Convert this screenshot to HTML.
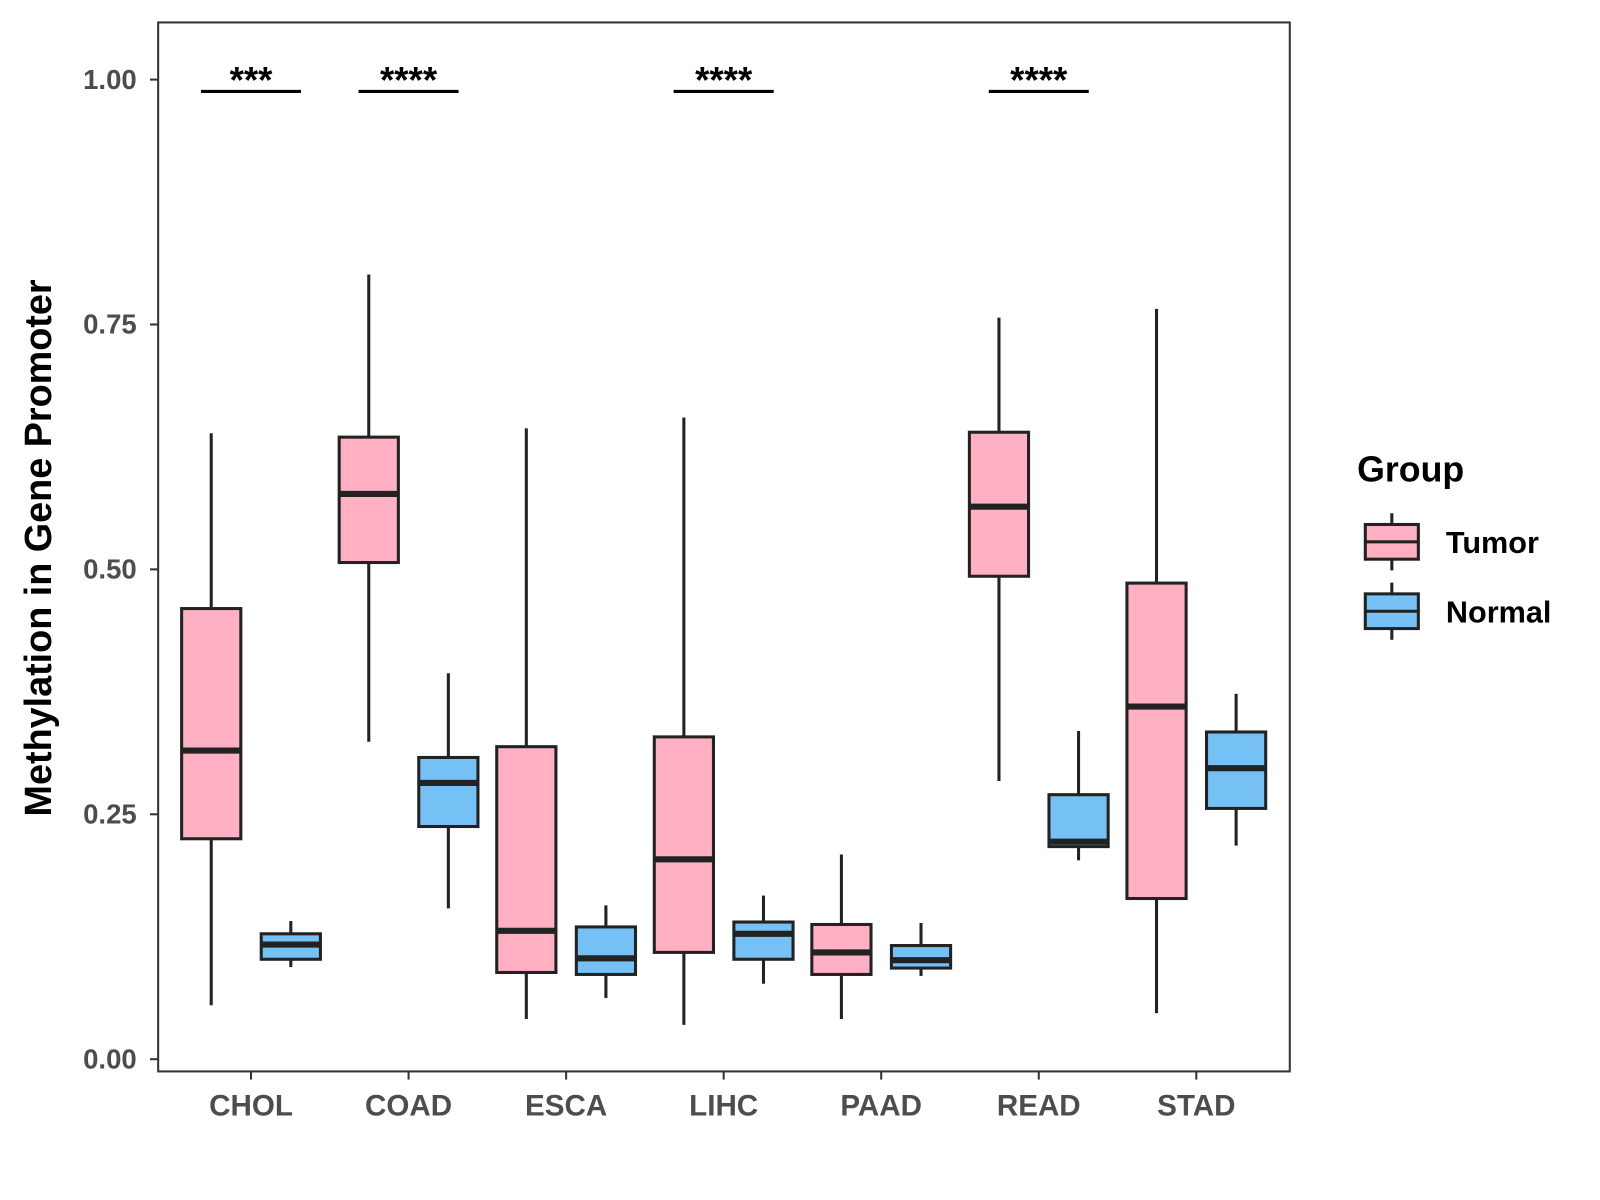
<!DOCTYPE html>
<html><head><meta charset="utf-8"><style>
body{margin:0;background:#fff;}
svg{display:block;font-family:"Liberation Sans",Arial,sans-serif;}
</style></head><body>
<svg id="chart" width="1600" height="1200" viewBox="0 0 1600 1200">
<g transform="scale(1.0204)">
<rect x="155" y="22" width="1109" height="1028" fill="#fff" stroke="#333" stroke-width="2"/>
<g id="yaxis"></g>
<g id="xaxis"></g>
<g id="boxes"></g>
<g id="sig"></g>
<text transform="translate(50,537) rotate(-90)" text-anchor="middle" font-size="37" font-weight="bold" fill="#000">Methylation in Gene Promoter</text>
<g>
<text x="1330" y="472" font-size="35" font-weight="bold" fill="#000">Group</text>
<g>
<line x1="1364" y1="503" x2="1364" y2="559" stroke="#222" stroke-width="3"/>
<rect x="1338" y="514" width="52" height="34" fill="#FFB0C2" stroke="#222" stroke-width="3"/>
<line x1="1338" y1="531" x2="1390" y2="531" stroke="#222" stroke-width="3"/>
<text x="1417" y="542" font-size="30" font-weight="bold" fill="#000">Tumor</text></g>
<g>
<line x1="1364" y1="571" x2="1364" y2="627" stroke="#222" stroke-width="3"/>
<rect x="1338" y="582" width="52" height="34" fill="#75C0F5" stroke="#222" stroke-width="3"/>
<line x1="1338" y1="599" x2="1390" y2="599" stroke="#222" stroke-width="3"/>
<text x="1417" y="610" font-size="30" font-weight="bold" fill="#000">Normal</text></g>
</g>
</g>
</svg>
<script>
const categories=["CHOL","COAD","ESCA","LIHC","PAAD","READ","STAD"];
// [min, q1, median, q3, max]
const tumorStats=[[0.055,0.225,0.315,0.460,0.639],[0.324,0.507,0.577,0.635,0.801],[0.041,0.0885,0.131,0.319,0.644],[0.035,0.109,0.204,0.329,0.655],[0.041,0.0865,0.109,0.1375,0.209],[0.284,0.493,0.564,0.640,0.757],[0.047,0.164,0.360,0.486,0.766]];
const normalStats=[[0.094,0.102,0.117,0.128,0.141],[0.154,0.2375,0.282,0.308,0.394],[0.0625,0.0865,0.103,0.135,0.157],[0.077,0.102,0.128,0.140,0.167],[0.085,0.093,0.101,0.116,0.139],[0.203,0.217,0.222,0.270,0.335],[0.218,0.256,0.297,0.334,0.373]];
const yTicks=[0,0.25,0.5,0.75,1.0];
const yTickLabels=["0.00","0.25","0.50","0.75","1.00"];
const sigCats=["CHOL","COAD","LIHC","READ"];
const sigLabels=["***","****","****","****"];
const sigLevel=0.99;

const NS="http://www.w3.org/2000/svg";
const y=v=>1038-v*960;
const x=i=>246+i*154.4;
function mk(tag,attrs,parent){const e=document.createElementNS(NS,tag);for(const k in attrs)e.setAttribute(k,attrs[k]);parent.appendChild(e);return e;}
const ya=document.getElementById('yaxis'),xa=document.getElementById('xaxis'),bx=document.getElementById('boxes'),sg=document.getElementById('sig');
yTicks.forEach((t,i)=>{
  const g=mk('g',{},ya);
  
  
  mk('line',{x1:147,x2:155,y1:y(t),y2:y(t),stroke:'#333','stroke-width':2},g);
  const tx=mk('text',{x:134,y:y(t)+9,'text-anchor':'end','font-size':27,'font-weight':'bold',fill:'#4d4d4d'},g);
  tx.textContent=yTickLabels[i];
});
categories.forEach((c,i)=>{
  const g=mk('g',{},xa);
  
  
  mk('line',{x1:x(i),x2:x(i),y1:1050,y2:1058,stroke:'#333','stroke-width':2},g);
  const tx=mk('text',{x:x(i),y:1093,'text-anchor':'middle','font-size':29,'font-weight':'bold',fill:'#4d4d4d'},g);
  tx.textContent=c;
});
function drawBox(s,cx,fill,name){
  const g=mk('g',{},bx);
  
  
  const w=58;
  mk('line',{x1:cx,x2:cx,y1:y(s[4]),y2:y(s[3]),stroke:'#222','stroke-width':3},g);
  mk('line',{x1:cx,x2:cx,y1:y(s[1]),y2:y(s[0]),stroke:'#222','stroke-width':3},g);
  mk('rect',{x:cx-w/2,y:y(s[3]),width:w,height:y(s[1])-y(s[3]),fill:fill,stroke:'#222','stroke-width':3},g);
  mk('line',{x1:cx-w/2,x2:cx+w/2,y1:y(s[2]),y2:y(s[2]),stroke:'#222','stroke-width':6},g);
}
categories.forEach((c,i)=>{
  drawBox(tumorStats[i],x(i)-39,'#FFB0C2','box-tumor-'+c.toLowerCase());
  drawBox(normalStats[i],x(i)+39,'#75C0F5','box-normal-'+c.toLowerCase());
});
sigCats.forEach((c,j)=>{
  const i=categories.indexOf(c);
  const g=mk('g',{},sg);
  
  
  mk('line',{x1:x(i)-49,x2:x(i)+49,y1:y(sigLevel)+2,y2:y(sigLevel)+2,stroke:'#000','stroke-width':3},g);
  const tx=mk('text',{x:x(i),y:y(sigLevel)+3,'text-anchor':'middle','font-size':36,'font-weight':'bold',fill:'#000'},g);
  tx.textContent=sigLabels[j];
});
</script>
</body></html>
